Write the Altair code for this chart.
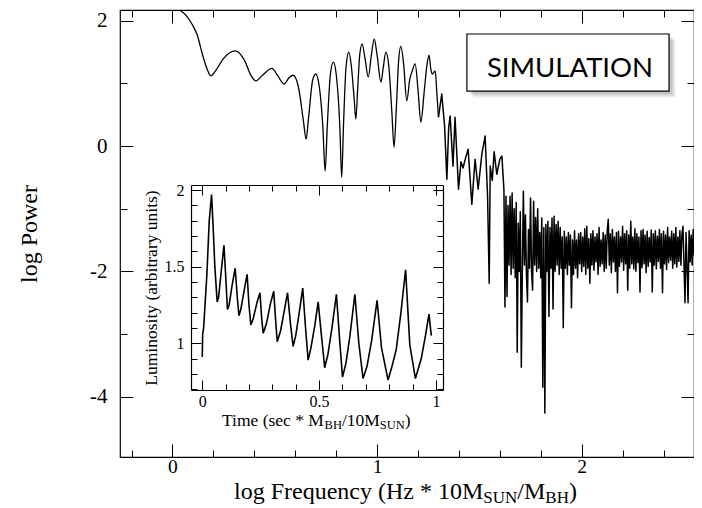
import altair as alt
import numpy as np
import pandas as pd

W, H = 574, 447
SERIF = "Liberation Serif"

# ---------------- main power spectrum (log f, log P) ----------------
LOW_F = [0.000, 0.040, 0.070, 0.100, 0.120, 0.150, 0.170, 0.187, 0.210, 0.250,
         0.306, 0.350, 0.385, 0.408, 0.440, 0.486, 0.515, 0.545, 0.570, 0.590,
         0.615, 0.640, 0.653, 0.665, 0.685, 0.700, 0.715, 0.735, 0.746, 0.757,
         0.772, 0.786, 0.800, 0.818, 0.827, 0.836, 0.848, 0.862, 0.875, 0.888,
         0.896, 0.905, 0.915, 0.927, 0.940, 0.957, 0.972, 0.986, 1.000, 1.019,
         1.030, 1.043, 1.058, 1.072, 1.083, 1.094, 1.105, 1.116, 1.130, 1.145,
         1.160, 1.172, 1.186, 1.200, 1.214, 1.230, 1.244, 1.254, 1.263, 1.270,
         1.284, 1.292, 1.300]
LOW_P = [2.20, 2.16, 2.07, 1.92, 1.78, 1.42, 1.22, 1.12, 1.20, 1.40,
         1.52, 1.38, 1.12, 1.04, 1.13, 1.24, 1.12, 0.99, 1.09, 1.13,
         0.95, 0.40, 0.11, 0.45, 1.05, 1.15, 1.00, 0.30, -0.40, 0.35,
         1.15, 1.34, 1.15, 0.30, -0.50, 0.35, 1.25, 1.50, 1.25, 0.75,
         0.43, 0.90, 1.45, 1.63, 1.42, 1.10, 1.45, 1.71, 1.45, 1.02,
         1.25, 1.50, 1.25, 0.55, -0.02, 0.60, 1.35, 1.59, 1.30, 0.72,
         1.07, 1.20, 1.31, 0.90, 0.38, 0.86, 1.30, 1.45, 1.22, 1.15,
         1.20, 0.85, 0.46]

MID_F = [1.300, 1.316, 1.330, 1.341, 1.350, 1.357, 1.371, 1.381, 1.398, 1.410,
         1.420, 1.430, 1.445, 1.463, 1.479, 1.494, 1.512, 1.528, 1.540, 1.548,
         1.553, 1.563, 1.572, 1.585, 1.600, 1.610]
MID_P = [0.46, 0.83, 0.32, -0.53, 0.30, 0.48, -0.32, 0.46, -0.69, -0.25,
         -0.35, -0.22, -0.05, -0.93, -0.21, -0.69, -0.13, 0.16, -0.80, -2.19,
         -0.32, -0.55, -0.09, -0.45, -0.21, -0.16]

# dense high-frequency part, read column by column from 1.62 to 2.55
BAND_START, BAND_END = 1.62, 2.55
BAND_P = [-0.70, -2.57, -0.80, -2.40, -0.95, -1.90, -0.80, -2.05, -0.75, -1.95,
          -1.00, -2.10, -0.90, -3.29, -1.23, -2.00, -1.05, -3.53, -1.95, -0.72,
          -1.90, -1.10, -2.05, -2.49, -1.33, -1.95, -0.83, -2.00, -2.30, -0.88,
          -1.90, -1.14, -2.00, -1.00, -1.95, -1.38, -2.10, -1.15, -3.85, -1.30,
          -4.26, -1.25, -2.00, -1.20, -2.72, -1.30, -1.95, -1.15, -2.60, -1.12,
          -2.00, -1.25, -1.90, -1.20, -2.05, -1.30, -1.95, -1.45, -2.90, -1.36,
          -1.95, -1.45, -2.05, -1.38, -1.90, -1.42, -2.58, -1.50, -2.05, -1.35,
          -1.95, -1.50, -2.10, -1.40, -1.88, -1.38, -2.00, -1.45, -1.92, -1.32,
          -2.05, -1.28, -1.95, -1.48, -2.19, -1.40, -1.90, -1.35, -1.98, -1.45,
          -1.85, -1.40, -2.05, -1.30, -1.92, -1.50, -1.88, -1.38, -2.00, -1.42,
          -1.95, -1.35, -1.17, -1.90, -1.40, -2.02, -1.33, -1.85, -1.45, -2.00,
          -1.38, -2.34, -1.36, -1.92, -1.45, -1.85, -1.28, -1.98, -1.40, -1.88,
          -1.35, -2.30, -1.42, -1.95, -1.20, -1.88, -1.45, -1.96, -1.32, -2.00,
          -1.40, -1.86, -1.45, -2.33, -1.35, -1.94, -1.33, -1.88, -1.42, -2.02,
          -1.36, -1.92, -1.46, -1.85, -1.34, -2.33, -1.40, -1.90, -1.35, -1.96,
          -1.44, -1.84, -1.33, -1.95, -1.40, -2.34, -1.36, -1.88, -1.42, -1.97,
          -1.30, -1.86, -1.45, -1.82, -1.36, -1.95, -1.40, -1.88, -1.30, -1.93,
          -1.45, -1.84, -1.35, -1.90, -1.40, -1.28, -1.88, -2.50, -1.38, -1.92,
          -2.50, -1.35, -1.85, -1.42, -1.90, -1.33, -1.75]

# ---------------- inset light curve ----------------
INSET_T = [0.000, 0.002, 0.006, 0.020, 0.030, 0.040, 0.047, 0.054, 0.064, 0.070,
           0.080, 0.093, 0.100, 0.108, 0.115, 0.128, 0.141, 0.150, 0.157, 0.165,
           0.180, 0.192, 0.200, 0.208, 0.218, 0.235, 0.247, 0.255, 0.261, 0.275,
           0.292, 0.306, 0.314, 0.321, 0.335, 0.352, 0.365, 0.378, 0.389, 0.400,
           0.415, 0.430, 0.442, 0.453, 0.465, 0.482, 0.496, 0.510, 0.524, 0.538,
           0.555, 0.574, 0.588, 0.600, 0.615, 0.632, 0.653, 0.670, 0.688, 0.705,
           0.725, 0.748, 0.767, 0.795, 0.812, 0.830, 0.850, 0.870, 0.888, 0.912,
           0.937, 0.955, 0.970, 0.980]
INSET_L = [0.91, 1.06, 1.10, 1.45, 1.80, 1.97, 1.75, 1.50, 1.27, 1.30,
           1.45, 1.64, 1.45, 1.22, 1.25, 1.38, 1.49, 1.30, 1.18, 1.22,
           1.35, 1.45, 1.25, 1.12, 1.16, 1.27, 1.33, 1.15, 1.065, 1.13,
           1.26, 1.34, 1.15, 1.01, 1.08, 1.22, 1.33, 1.12, 0.98, 1.05,
           1.20, 1.36, 1.10, 0.89, 0.97, 1.12, 1.27, 1.05, 0.84, 0.93,
           1.10, 1.32, 1.02, 0.78, 0.87, 1.05, 1.32, 1.00, 0.77, 0.85,
           1.02, 1.28, 0.97, 0.76, 0.85, 0.96, 1.20, 1.48, 0.99, 0.77,
           0.90, 1.05, 1.19, 1.05]

# ---------------- ticks / domains ----------------
MAIN_X_MAJOR = [0, 1, 2]
MAIN_X_MINOR = [-0.2, 0.2, 0.4, 0.6, 0.8, 1.2, 1.4, 1.6, 1.8, 2.2, 2.4]
MAIN_Y_MAJOR = [-4, -2, 0, 2]
MAIN_Y_MINOR = [-3, -1, 1]
INSET_X_MAJOR = [0, 0.5, 1]
INSET_X_MINOR = [0.1, 0.2, 0.3, 0.4, 0.6, 0.7, 0.8, 0.9]
INSET_Y_MAJOR = [1, 1.5, 2]
INSET_Y_MINOR = [0.7, 0.8, 0.9, 1.1, 1.2, 1.3, 1.4, 1.6, 1.7, 1.8, 1.9]

MAIN_XDOM = [-0.2566, 2.549]
MAIN_YDOM = [-4.962, 2.171]
INSET_XDOM = [-0.048, 1.03]
INSET_YDOM = [0.695, 2.033]
INSET_XRANGE = [71, 323]
INSET_YRANGE = [380, 175]

# annotation box (main data coordinates)
BOX = {"x": 1.439, "x2": 2.427, "y": 1.788, "y2": 0.878}
BOX_TEXT = "SIMULATION"
BOX_TEXT_POS = (1.943, 1.097)

# axis titles with subscripts: (text, is_subscript)
MAIN_XTITLE = [("log Frequency (Hz * 10M", False), ("SUN", True), ("/M", False),
               ("BH", True), (")", False)]
INSET_XTITLE = [("Time (sec * M", False), ("BH", True), ("/10M", False),
                ("SUN", True), (")", False)]
MAIN_YTITLE = "log Power"
INSET_YTITLE = "Luminosity (arbitrary units)"

TW = {'l': .278, 'o': .5, 'g': .5, ' ': .25, 'F': .556, 'r': .333, 'e': .444,
      'q': .5, 'u': .5, 'n': .5, 'c': .444, 'y': .5, '(': .333, 'H': .722,
      'z': .444, '*': .5, '1': .5, '0': .5, 'M': .889, 'S': .556, 'U': .722,
      'N': .722, '/': .278, 'B': .667, ')': .333, 'T': .611, 'i': .278,
      'm': .778, 's': .389}


def text_width(s, size):
    return sum(TW.get(ch, 0.5) for ch in s) * size


XS = alt.Scale(domain=MAIN_XDOM, nice=False, zero=False)
YS = alt.Scale(domain=MAIN_YDOM, nice=False, zero=False)
XI = alt.Scale(domain=INSET_XDOM, range=INSET_XRANGE, nice=False, zero=False)
YI = alt.Scale(domain=INSET_YDOM, range=INSET_YRANGE, nice=False, zero=False)


def tick_axis(orient, offset, values, size, domain=False):
    return alt.Axis(orient=orient, offset=offset, values=values, tickSize=size,
                    ticks=True, labels=False, domain=domain, grid=False,
                    title=None, tickColor="black", tickWidth=1,
                    domainColor="black", domainWidth=1.2, zindex=1)


def label_axis(orient, offset, values, size, pad, domain=False, **kw):
    return alt.Axis(orient=orient, offset=offset, values=values, ticks=False,
                    tickSize=0, domain=domain, grid=False, labelFont=SERIF,
                    labelFontSize=size, labelPadding=pad, labelColor="black",
                    labelExpr="'' + datum.value", domainColor="black",
                    domainWidth=1.2, zindex=1, **kw)


def title_pieces(pieces, x0, y0, size, subsize, subdrop):
    out = []
    x = x0
    for s, sub in pieces:
        fs = subsize if sub else size
        out.append(
            alt.Chart(pd.DataFrame({"a": [0]})).mark_text(
                text=s, font=SERIF, fontSize=fs, align="left",
                baseline="alphabetic", color="black"
            ).encode(x=alt.value(x), y=alt.value(y0 + (subdrop if sub else 0)))
        )
        x += text_width(s, fs)
    return out


# ---------------- main group ----------------
low_df = pd.DataFrame({"f": LOW_F, "p": LOW_P})
noisy_df = pd.DataFrame({
    "f": MID_F + list(np.linspace(BAND_START, BAND_END, len(BAND_P))),
    "p": MID_P + BAND_P,
})
ax_df = pd.DataFrame({"f": MAIN_XDOM, "p": MAIN_YDOM})

main_curve = alt.Chart(low_df).mark_line(
    interpolate="monotone", color="black", strokeWidth=1.3, clip=True
).encode(
    x=alt.X("f:Q", scale=XS, axis=label_axis("bottom", 0, MAIN_X_MAJOR, 19.5, 0, title=None)),
    y=alt.Y("p:Q", scale=YS, axis=label_axis(
        "left", 0, MAIN_Y_MAJOR, 21, 13, title=MAIN_YTITLE, titleFont=SERIF,
        titleFontSize=24, titleFontWeight="normal", titleColor="black",
        titleX=-91, titleY=H / 2, titleBaseline="middle")),
)

noisy_curve = alt.Chart(noisy_df).mark_line(
    color="black", strokeWidth=1.5, strokeJoin="round", clip=True
).encode(
    x=alt.X("f:Q", scale=XS, axis=None),
    y=alt.Y("p:Q", scale=YS, axis=None),
)


def main_axes(xa, ya):
    return alt.Chart(ax_df).mark_point(opacity=0).encode(
        x=alt.X("f:Q", scale=XS, axis=xa), y=alt.Y("p:Q", scale=YS, axis=ya))


main_ax_layers = [
    main_axes(tick_axis("top", -H, MAIN_X_MAJOR, 13), tick_axis("right", -W, MAIN_Y_MAJOR, 13)),
    main_axes(tick_axis("top", -H, MAIN_X_MINOR, 7), tick_axis("right", -W, MAIN_Y_MINOR, 7)),
    main_axes(tick_axis("bottom", -H, MAIN_X_MAJOR, 13), tick_axis("left", -W, MAIN_Y_MAJOR, 13)),
    main_axes(tick_axis("bottom", -H, MAIN_X_MINOR, 7), tick_axis("left", -W, MAIN_Y_MINOR, 7)),
]

box_df = pd.DataFrame([BOX])
shadow_layers = []
for k, op in [(7, 0.06), (6, 0.08), (5, 0.10), (4, 0.12), (3, 0.14)]:
    shadow_layers.append(
        alt.Chart(box_df).mark_rect(
            color="#777777", opacity=op, xOffset=k, x2Offset=k, yOffset=k, y2Offset=k
        ).encode(
            x=alt.X("x:Q", scale=XS, axis=None), x2="x2:Q",
            y=alt.Y("y:Q", scale=YS, axis=None), y2="y2:Q",
        )
    )
box = alt.Chart(box_df).mark_rect(fill="white", stroke="black", strokeWidth=1.2).encode(
    x=alt.X("x:Q", scale=XS, axis=None), x2="x2:Q",
    y=alt.Y("y:Q", scale=YS, axis=None), y2="y2:Q",
)
box_text = alt.Chart(pd.DataFrame({"x": [BOX_TEXT_POS[0]], "y": [BOX_TEXT_POS[1]]})).mark_text(
    text=BOX_TEXT, font="Lato", fontSize=27.5, align="center", baseline="alphabetic", color="black"
).encode(
    x=alt.X("x:Q", scale=XS, axis=None), y=alt.Y("y:Q", scale=YS, axis=None)
)

main_title = title_pieces(MAIN_XTITLE, 114, 489, 24, 17, 3.5)

main_group = alt.layer(
    main_curve, noisy_curve, *main_ax_layers, *shadow_layers, box, box_text, *main_title
).resolve_axis(x="independent", y="independent")

# ---------------- inset group ----------------
inset_df = pd.DataFrame({"t": INSET_T, "L": INSET_L})
inset_box_df = pd.DataFrame({"t": [INSET_XDOM[0]], "t2": [INSET_XDOM[1]],
                             "L": [INSET_YDOM[0]], "L2": [INSET_YDOM[1]]})
iax_df = pd.DataFrame({"t": INSET_XDOM, "L": INSET_YDOM})

inset_bg = alt.Chart(inset_box_df).mark_rect(fill="white").encode(
    x=alt.X("t:Q", scale=XI, axis=label_axis("bottom", -(H - INSET_YRANGE[0]), INSET_X_MAJOR,
                                              16, 3, domain=True, title=None)),
    x2="t2:Q",
    y=alt.Y("L:Q", scale=YI, axis=label_axis(
        "left", -INSET_XRANGE[0], INSET_Y_MAJOR, 16, 7, domain=True,
        title=INSET_YTITLE, titleFont=SERIF, titleFontSize=17.5,
        titleFontWeight="normal", titleColor="black",
        titleX=31 - INSET_XRANGE[0], titleY=277.5, titleBaseline="middle")),
    y2="L2:Q",
)

inset_curve = alt.Chart(inset_df).mark_line(color="black", strokeWidth=1.6).encode(
    x=alt.X("t:Q", scale=XI, axis=None),
    y=alt.Y("L:Q", scale=YI, axis=None),
)


def inset_axes(xa, ya):
    return alt.Chart(iax_df).mark_point(opacity=0).encode(
        x=alt.X("t:Q", scale=XI, axis=xa), y=alt.Y("L:Q", scale=YI, axis=ya))


bx, tx = -INSET_YRANGE[0], INSET_YRANGE[1] - H
lx, rx = INSET_XRANGE[0] - W, -INSET_XRANGE[1]
inset_ax_layers = [
    inset_axes(tick_axis("top", bx, INSET_X_MAJOR, 10), tick_axis("right", lx, INSET_Y_MAJOR, 10)),
    inset_axes(tick_axis("top", bx, INSET_X_MINOR, 6), tick_axis("right", lx, INSET_Y_MINOR, 6)),
    inset_axes(tick_axis("bottom", tx, INSET_X_MAJOR, 10, domain=True),
               tick_axis("left", rx, INSET_Y_MAJOR, 10, domain=True)),
    inset_axes(tick_axis("bottom", tx, INSET_X_MINOR, 6), tick_axis("left", rx, INSET_Y_MINOR, 6)),
]

inset_title = title_pieces(INSET_XTITLE, 102, 416, 17.5, 12.5, 3)

inset_group = alt.layer(
    inset_bg, inset_curve, *inset_ax_layers, *inset_title
).resolve_axis(x="independent", y="independent")

chart = alt.layer(main_group, inset_group).resolve_scale(
    x="independent", y="independent"
).properties(
    width=W, height=H,
    autosize=alt.AutoSizeParams(type="none"),
    padding={"left": 112, "top": 2, "right": 0, "bottom": 51},
).configure_view(
    stroke="black", strokeWidth=1.2
).configure_axis(
    labelFont=SERIF, titleFont=SERIF
)

chart.save("out.html", embed_options={"renderer": "svg", "actions": False})
